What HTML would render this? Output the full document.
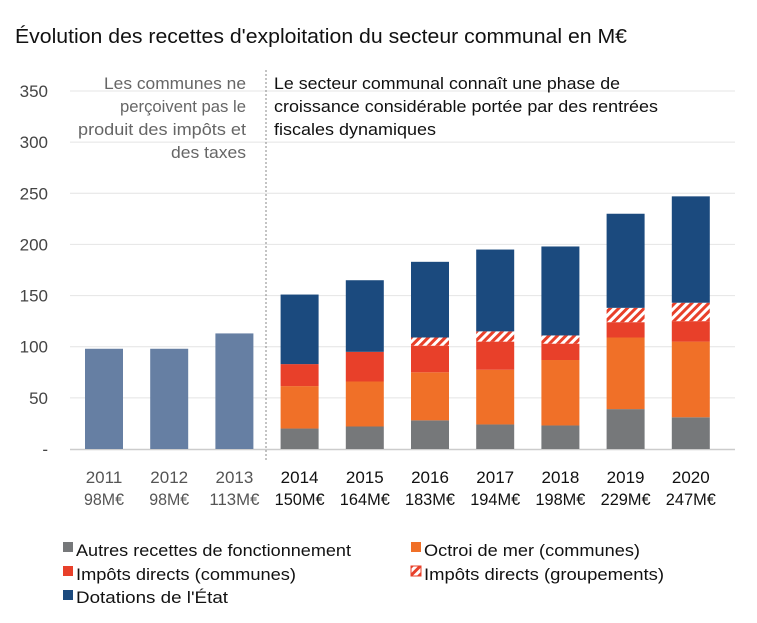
<!DOCTYPE html>
<html><head><meta charset="utf-8"><style>
html,body{margin:0;padding:0;background:#fff;}
svg{display:block;font-family:"Liberation Sans",sans-serif;}
</style></head><body>
<svg id="chart" width="757" height="623" viewBox="0 0 757 623" xmlns="http://www.w3.org/2000/svg">
<defs>
<pattern id="hatch" patternUnits="userSpaceOnUse" width="6" height="6" patternTransform="rotate(45)">
<rect width="6" height="6" fill="#fff"/><rect width="3" height="6" fill="#e8402a"/>
</pattern>
</defs>
<text x="15" y="43" font-size="20" fill="#111" textLength="612" lengthAdjust="spacingAndGlyphs">Évolution des recettes d'exploitation du secteur communal en M€</text>
<g id="grid"></g>
<g id="bars"></g>
<line x1="266" y1="70" x2="266" y2="462" stroke="#888" stroke-width="1" stroke-dasharray="2,2"/>
<g font-size="17" fill="#666" text-anchor="end">
<text x="246" y="89" textLength="142" lengthAdjust="spacingAndGlyphs">Les communes ne</text>
<text x="246" y="112" textLength="126" lengthAdjust="spacingAndGlyphs">perçoivent pas le</text>
<text x="246" y="135" textLength="168" lengthAdjust="spacingAndGlyphs">produit des impôts et</text>
<text x="246" y="158" textLength="75" lengthAdjust="spacingAndGlyphs">des taxes</text>
</g>
<g font-size="17" fill="#111">
<text x="274" y="89" textLength="346" lengthAdjust="spacingAndGlyphs">Le secteur communal connaît une phase de</text>
<text x="274" y="112" textLength="384" lengthAdjust="spacingAndGlyphs">croissance considérable portée par des rentrées</text>
<text x="274" y="135" textLength="162" lengthAdjust="spacingAndGlyphs">fiscales dynamiques</text>
</g>
<g id="xlabels"></g>
<g font-size="17" fill="#111">
<rect x="63" y="542" width="10" height="10" fill="#76787a"/><text x="76" y="556" textLength="275" lengthAdjust="spacingAndGlyphs">Autres recettes de fonctionnement</text>
<rect x="411" y="542" width="10" height="10" fill="#f07028"/><text x="424" y="556" textLength="216" lengthAdjust="spacingAndGlyphs">Octroi de mer (communes)</text>
<rect x="63" y="566" width="10" height="10" fill="#e8402a"/><text x="76" y="580" textLength="220" lengthAdjust="spacingAndGlyphs">Impôts directs (communes)</text>
<rect x="411" y="566" width="10" height="10" fill="url(#hatch)" stroke="#e8402a" stroke-width="1"/><text x="424" y="580" textLength="240" lengthAdjust="spacingAndGlyphs">Impôts directs (groupements)</text>
<rect x="63" y="590" width="10" height="10" fill="#1b4a7e"/><text x="76" y="603" textLength="152" lengthAdjust="spacingAndGlyphs">Dotations de l'État</text>
</g>
</svg>
<script>
const years = ["2011","2012","2013","2014","2015","2016","2017","2018","2019","2020"];
const totalsLabel = ["98M€","98M€","113M€","150M€","164M€","183M€","194M€","198M€","229M€","247M€"];
const totalsEarly = [98, 98, 113];
const autres = [0,0,0,20,22,28,24,23,39,31];
const octroi = [0,0,0,41.5,44,47,53.5,64,70,74];
const impotsCommunes = [0,0,0,21.5,29,26,27.5,16,15,20];
const impotsGroupements = [0,0,0,0,0,8,10,8,14,18];
const dotations = [0,0,0,68,70,74,80,87,92,104];
const yTicks = [0,50,100,150,200,250,300,350];

const NS = "http://www.w3.org/2000/svg";
const y0 = 449, pxPerUnit = (449 - 91) / 350;
const yScale = v => y0 - v * pxPerUnit;
const xLeft = i => 85 + i * 65.2;
const barW = 38;
function mk(tag, attrs, parent){
  const e = document.createElementNS(NS, tag);
  for (const k in attrs) e.setAttribute(k, attrs[k]);
  parent.appendChild(e);
  return e;
}
const grid = document.getElementById('grid');
yTicks.forEach(t => {
  if (t > 0) {
    const l = mk('line', {x1:70, x2:735, y1:yScale(t), y2:yScale(t), stroke:'#e4e4e4', 'stroke-width':1}, grid);
    
    
  }
  const tx = mk('text', {x:48, y:yScale(t)+6, 'text-anchor':'end', 'font-size':17, fill:'#444'}, grid);
  tx.textContent = t === 0 ? '-' : String(t);
  
  
});
const ax = mk('line', {x1:70, x2:735, y1:y0+0.5, y2:y0+0.5, stroke:'#ccc', 'stroke-width':1.5}, grid);



const bars = document.getElementById('bars');
const series = [
  [autres, '#76787a', 'autres'],
  [octroi, '#f07028', 'octroi'],
  [impotsCommunes, '#e8402a', 'impots-communes'],
  [impotsGroupements, 'url(#hatch)', 'impots-groupements'],
  [dotations, '#1b4a7e', 'dotations']
];
years.forEach((yr, i) => {
  const x = xLeft(i);
  if (i < totalsEarly.length) {
    const r = mk('rect', {x:x, y:yScale(totalsEarly[i]), width:barW, height:totalsEarly[i]*pxPerUnit, fill:'#667fa3'}, bars);
    
    
  } else {
    let acc = 0;
    series.forEach(([arr, col, nm]) => {
      const v = arr[i];
      if (v > 0) {
        const r = mk('rect', {x:x, y:yScale(acc+v), width:barW, height:v*pxPerUnit, fill:col}, bars);
        
        
      }
      acc += v;
    });
  }
  const col = i < 3 ? '#555' : '#111';
  const xl = document.getElementById('xlabels');
  const t1 = mk('text', {x:x+barW/2, y:483, 'text-anchor':'middle', 'font-size':17, fill:col}, xl);
  t1.textContent = yr;
  
  
  const t2 = mk('text', {x:x+barW/2, y:505, 'text-anchor':'middle', 'font-size':17, fill:col, textLength: totalsLabel[i].length > 4 ? 50 : 40, lengthAdjust:'spacingAndGlyphs'}, xl);
  t2.textContent = totalsLabel[i];
  
  
});
</script>
</body></html>
